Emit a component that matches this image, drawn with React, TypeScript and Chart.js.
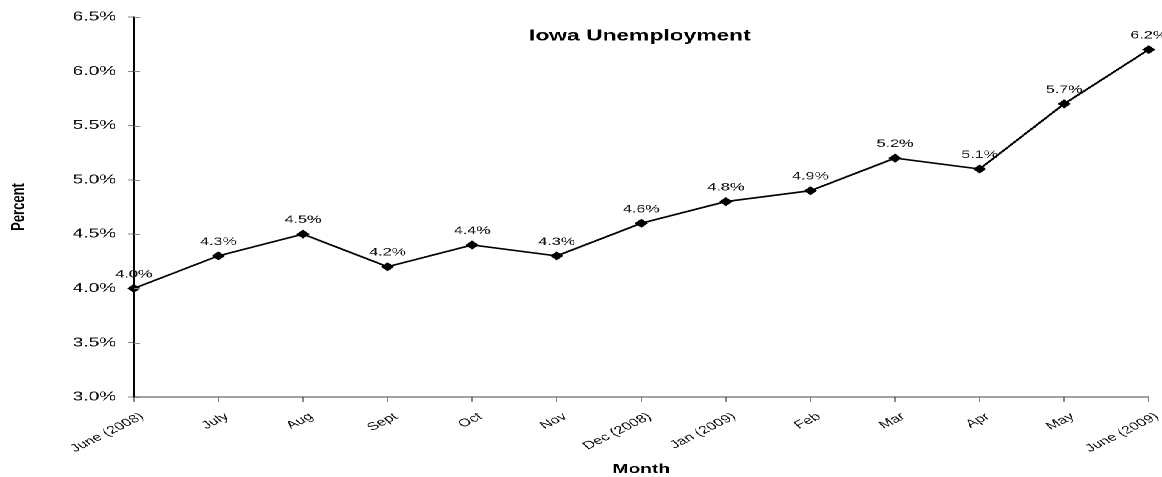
import React, { useEffect, useRef } from "react";
import { Chart, registerables } from "chart.js";

Chart.register(...registerables);

const months = [
  "June (2008)", "July", "Aug", "Sept", "Oct", "Nov", "Dec (2008)",
  "Jan (2009)", "Feb", "Mar", "Apr", "May", "June (2009)",
];
const rates = [4.0, 4.3, 4.5, 4.2, 4.4, 4.3, 4.6, 4.8, 4.9, 5.2, 5.1, 5.7, 6.2];
const yMin = 3.0;
const yMax = 6.5;
const yStep = 0.5;
const chartTitle = "Iowa Unemployment";
const xTitle = "Month";
const yTitle = "Percent";

const FONT = "'Liberation Sans', Arial, Helvetica, sans-serif";
const LOGICAL_W = 790;
const H = 477;
const SCALE_X = 1162 / LOGICAL_W;
const X_LABEL_ROTATION = 36;

const overlayPlugin = {
  id: "overlay",
  afterDraw(chart: any) {
    const { ctx, chartArea } = chart;
    const yScale = chart.scales.y;
    const xScale = chart.scales.x;
    ctx.save();
    // inner half of y tick marks
    ctx.strokeStyle = "#888";
    ctx.lineWidth = 1;
    yScale.ticks.forEach((_t: any, i: number) => {
      const py = Math.round(yScale.getPixelForTick(i)) + 0.5;
      ctx.beginPath();
      ctx.moveTo(chartArea.left, py);
      ctx.lineTo(chartArea.left + 4, py);
      ctx.stroke();
    });
    // rotated x tick labels
    ctx.fillStyle = "#111";
    ctx.font = `11px ${FONT}`;
    ctx.textAlign = "right";
    ctx.textBaseline = "top";
    months.forEach((m, i) => {
      const px = xScale.getPixelForTick(i);
      ctx.save();
      ctx.translate(px + 2.5, chartArea.bottom + 14);
      ctx.rotate((-X_LABEL_ROTATION * Math.PI) / 180);
      ctx.fillText(m, 0, 0);
      ctx.restore();
    });
    // data labels
    const meta = chart.getDatasetMeta(0);
    ctx.fillStyle = "#111";
    ctx.font = `11px ${FONT}`;
    ctx.textAlign = "center";
    ctx.textBaseline = "middle";
    meta.data.forEach((pt: any, i: number) => {
      ctx.fillText(rates[i].toFixed(1) + "%", pt.x, pt.y - 14);
    });
    // chart title
    ctx.fillStyle = "#000";
    ctx.font = `bold 15.5px ${FONT}`;
    ctx.fillText(chartTitle, (chartArea.left + chartArea.right) / 2 - 1, 36);
    ctx.restore();
  },
};

export default function App() {
  const ref = useRef<HTMLCanvasElement | null>(null);
  useEffect(() => {
    if (!ref.current) return;
    const chart = new Chart(ref.current, {
      type: "line",
      data: {
        labels: months,
        datasets: [
          {
            data: rates,
            borderColor: "#000",
            borderWidth: 1.6,
            backgroundColor: "#000",
            pointStyle: "rectRot",
            pointRadius: 3.8,
            pointBorderWidth: 1,
            pointBackgroundColor: "#000",
            pointBorderColor: "#000",
            tension: 0,
            fill: false,
          },
        ],
      },
      options: {
        animation: false,
        responsive: false,
        devicePixelRatio: 2,
        layout: { padding: { top: 17, right: 9, left: 0, bottom: 0 } },
        plugins: {
          legend: { display: false },
          tooltip: { enabled: false },
          title: { display: false },
        },
        scales: {
          x: {
            type: "category",
            offset: false,
            grid: { drawOnChartArea: false, drawTicks: true, tickLength: 5, color: "#888" },
            border: { display: true, color: "#444", width: 1 },
            ticks: { display: false, autoSkip: false },
            title: {
              display: true,
              text: xTitle,
              color: "#000",
              font: { family: FONT, size: 13, weight: "bold" },
              padding: { top: 0, bottom: 0 },
            },
            afterFit: (s: any) => {
              s.height = 80;
            },
          },
          y: {
            min: yMin,
            max: yMax,
            grid: { drawOnChartArea: false, drawTicks: true, tickLength: 4, color: "#888" },
            border: { display: true, color: "#000", width: 1 },
            ticks: {
              stepSize: yStep,
              padding: 8,
              color: "#111",
              font: { family: FONT, size: 13 },
              callback: (v: any) => Number(v).toFixed(1) + "%",
            },
            title: {
              display: true,
              text: yTitle,
              color: "#000",
              font: { family: FONT, size: 13, weight: "bold" },
              padding: { top: 5, bottom: 0 },
            },
            afterFit: (s: any) => {
              s.width = 91;
            },
          },
        },
      },
      plugins: [overlayPlugin],
    } as any);
    return () => chart.destroy();
  }, []);

  return (
    <div
      style={{
        position: "fixed",
        left: 0,
        top: 0,
        width: LOGICAL_W,
        height: H,
        transform: `scaleX(${SCALE_X})`,
        transformOrigin: "0 0",
        background: "#fff",
      }}
    >
      <canvas ref={ref} width={LOGICAL_W} height={H} style={{ width: LOGICAL_W, height: H, display: "block" }} />
    </div>
  );
}
